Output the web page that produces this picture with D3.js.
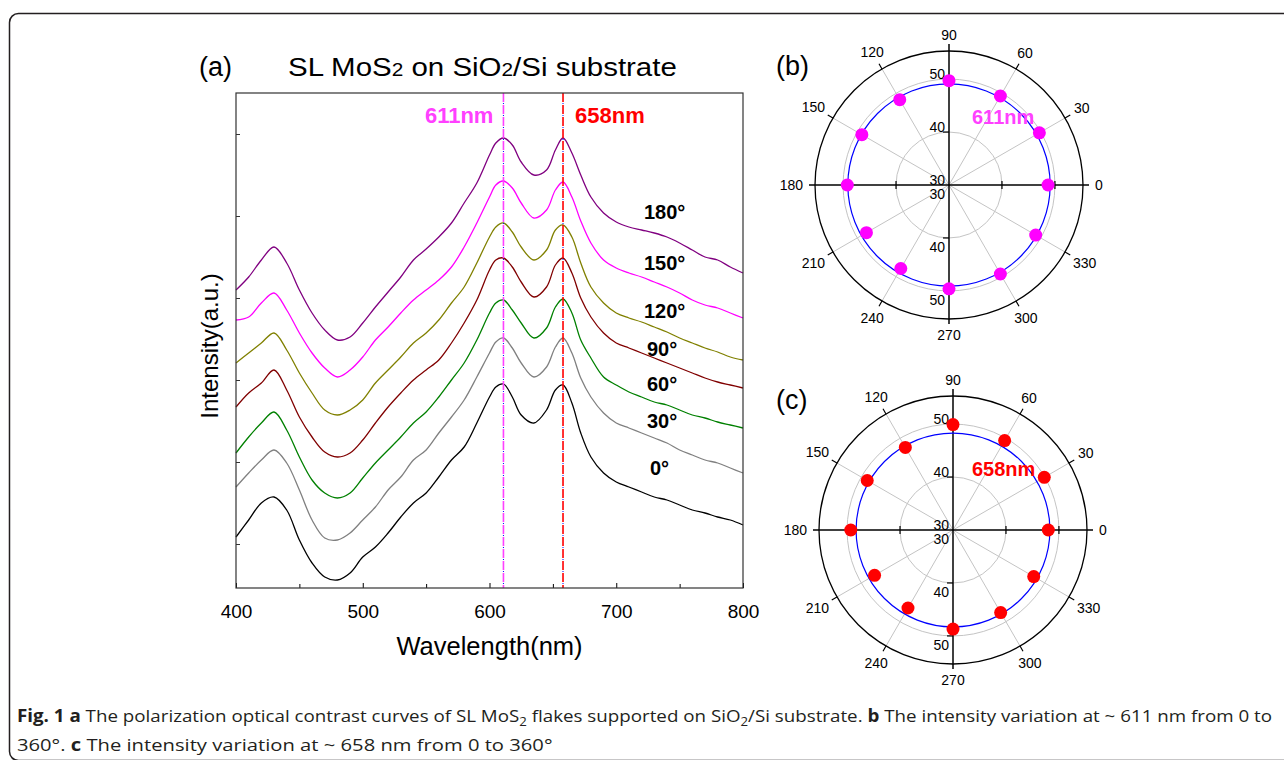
<!DOCTYPE html>
<html>
<head>
<meta charset="utf-8">
<script src="https://cdn.jsdelivr.net/npm/d3@7/dist/d3.min.js"></script>
<style>
body { margin: 0; background: #fff; }
svg { display: block; font-family: "Liberation Sans", Arial, sans-serif; }
</style>
</head>
<body>
<div id="chart"></div>
<script>
// ---- data ----
var wavelengths = [400,410,420,430,440,450,460,470,480,490,500,510,520,530,540,550,560,570,580,590,600,
                   605,611,618,625,635,645,652,658,665,672,
                   680,690,700,710,720,730,740,750,760,770,780,790,800];

// intensity (a.u.), one list per polarization angle
var spec0   = [51,68,85,91,78,48,25,11,8,15,31,41,55,71,85,95,111,128,141,165,191,201,204,191,173,165,178,198,203,185,155,131,115,106,101,96,91,88,83,78,75,71,68,63];
var spec30  = [101,115,128,138,125,98,68,50,48,55,68,81,98,111,128,138,155,171,188,211,235,246,250,240,225,211,221,241,250,235,210,191,175,165,160,155,150,145,138,133,128,125,120,115];
var spec60  = [135,151,165,176,158,131,108,95,90,95,110,125,138,151,165,176,191,208,225,248,275,285,288,278,265,250,260,281,289,275,248,230,211,203,196,191,186,183,178,173,170,166,163,160];
var spec90  = [181,195,205,218,198,171,151,136,131,135,148,165,181,195,208,218,228,245,265,288,318,328,330,321,306,291,301,323,330,315,290,271,255,245,240,235,230,225,220,215,210,206,203,200];
var spec120 = [225,235,245,255,238,215,195,178,173,178,188,205,218,231,245,255,268,285,301,325,351,361,365,356,341,328,338,358,363,351,325,301,285,275,270,266,261,256,250,245,240,236,231,228];
var spec150 = [268,271,285,295,278,255,235,220,211,218,231,248,261,275,288,298,308,321,341,365,391,403,407,400,385,370,378,398,406,391,367,345,328,320,315,311,306,301,295,288,283,280,275,270];
var spec180 = [298,311,328,341,325,298,275,258,248,251,265,281,296,311,328,339,351,365,385,405,433,445,450,443,426,413,418,438,450,435,413,391,375,366,361,358,355,351,345,338,331,328,321,315];
var angleNames = ["0°","30°","60°","90°","120°","150°","180°"];

var xTicks = [400,500,600,700,800];
var xMinorTicks = [450,550,650,750];
var yTicks = [44,126,208,290,372,454];
var peakWavelengths = [611, 658];

// polar panels
var polarAngles = [0,30,60,90,120,150,180,210,240,270,300,330];
var contrast611 = [48.7,49.7,49.4,49.7,48.6,49.0,49.2,48.0,48.2,49.6,49.4,48.9];
var contrast658 = [48.0,49.9,49.5,49.9,48.0,48.7,49.3,47.1,47.0,48.7,48.0,47.6];
var fit611 = 49.1;
var fit658 = 48.3;
var radialTicks = [30,40,50];

// ---- drawing ----
var width = 1284, height = 760;
var font = "Liberation Sans, Arial, sans-serif";

var svg = d3.select("#chart").append("svg")
    .attr("width", width)
    .attr("height", height);

svg.append("rect").attr("width", width).attr("height", height).attr("fill", "#fff");

// rounded frame round the whole figure
svg.append("rect")
    .attr("x", 9.5).attr("y", 13.5)
    .attr("width", 1320).attr("height", 747)
    .attr("rx", 9).attr("ry", 9)
    .attr("fill", "none")
    .attr("stroke", "#231f20")
    .attr("stroke-width", 1.5);

// squeeze/stretch a text horizontally so it covers a given width
function fitWidth(sel, target, x0) {
    var w = sel.node().getComputedTextLength();
    var s = target / w;
    sel.attr("transform", "translate(" + x0 + ",0) scale(" + s + ",1) translate(" + (-x0) + ",0)");
    return s;
}

// ===== panel (a) =====
var plot = { left: 236, right: 743, top: 93, bottom: 588 };
var x = d3.scaleLinear().domain([400, 800]).range([plot.left, plot.right]);
var y = d3.scaleLinear().domain([0, 495]).range([plot.bottom, plot.top]);

var spectra = [
    { name: angleNames[0], values: spec0,   color: "#000000", lx: 650, ly: 475 },
    { name: angleNames[1], values: spec30,  color: "#808080", lx: 647, ly: 428 },
    { name: angleNames[2], values: spec60,  color: "#008000", lx: 647, ly: 391 },
    { name: angleNames[3], values: spec90,  color: "#800000", lx: 647, ly: 356 },
    { name: angleNames[4], values: spec120, color: "#808000", lx: 644, ly: 318 },
    { name: angleNames[5], values: spec150, color: "#ff00ff", lx: 644, ly: 270 },
    { name: angleNames[6], values: spec180, color: "#800080", lx: 644, ly: 219 }
];

var line = d3.line()
    .x(function (d, i) { return x(wavelengths[i]); })
    .y(function (d) { return y(d); })
    .curve(d3.curveCatmullRom.alpha(0.5));

svg.append("g").selectAll("path")
    .data(spectra)
    .join("path")
    .attr("d", function (d) { return line(d.values); })
    .attr("fill", "none")
    .attr("stroke", function (d) { return d.color; })
    .attr("stroke-width", 1.3);

svg.append("g").selectAll("text")
    .data(spectra)
    .join("text")
    .attr("x", function (d) { return d.lx; })
    .attr("y", function (d) { return d.ly; })
    .attr("font-size", 20)
    .attr("font-weight", "bold")
    .attr("fill", "#000")
    .text(function (d) { return d.name; });

// dashed peak markers
var peakColors = ["#ff40ff", "#ff0000"];
var peaks = svg.append("g");
peakWavelengths.forEach(function (w, i) {
    peaks.append("line")
        .attr("x1", x(w)).attr("x2", x(w))
        .attr("y1", plot.top).attr("y2", plot.bottom)
        .attr("stroke", "#0000ff").attr("stroke-width", 1)
        .attr("stroke-dasharray", "1,11").attr("stroke-dashoffset", 2);
    peaks.append("line")
        .attr("x1", x(w)).attr("x2", x(w))
        .attr("y1", plot.top).attr("y2", plot.bottom)
        .attr("stroke", peakColors[i]).attr("stroke-width", 1.6)
        .attr("stroke-dasharray", "9,3");
});
svg.append("text")
    .attr("x", x(611) - 10).attr("y", 123)
    .attr("text-anchor", "end")
    .attr("font-size", 22).attr("font-weight", "bold")
    .attr("fill", peakColors[0])
    .text(peakWavelengths[0] + "nm");
svg.append("text")
    .attr("x", x(658) + 12).attr("y", 123)
    .attr("font-size", 22).attr("font-weight", "bold")
    .attr("fill", peakColors[1])
    .text(peakWavelengths[1] + "nm");

// axes (ticks point inward)
var gx = svg.append("g")
    .attr("transform", "translate(0," + plot.bottom + ")")
    .call(d3.axisBottom(x).tickValues(xTicks).tickSize(-5).tickPadding(16.5).tickFormat(d3.format("d")));
gx.attr("font-size", 19).attr("font-family", font);
gx.select(".domain").remove();
gx.selectAll("text").attr("fill", "#000");

var gxm = svg.append("g")
    .attr("transform", "translate(0," + plot.bottom + ")")
    .call(d3.axisBottom(x).tickValues(xMinorTicks).tickSize(-4).tickFormat(""));
gxm.select(".domain").remove();

var gy = svg.append("g")
    .attr("transform", "translate(" + plot.left + ",0)")
    .call(d3.axisLeft(y).tickValues(yTicks).tickSize(-4).tickFormat(""));
gy.select(".domain").remove();
gy.selectAll("line").attr("stroke", "#333");

svg.append("rect")
    .attr("x", plot.left).attr("y", plot.top)
    .attr("width", plot.right - plot.left).attr("height", plot.bottom - plot.top)
    .attr("fill", "none").attr("stroke", "#333").attr("stroke-width", 1.2);

svg.append("text")
    .attr("x", (plot.left + plot.right) / 2).attr("y", 655)
    .attr("text-anchor", "middle")
    .attr("font-size", 25.5)
    .text("Wavelength(nm)");

svg.append("text")
    .attr("transform", "translate(218,346) rotate(-90)")
    .attr("text-anchor", "middle")
    .attr("font-size", 24)
    .text("Intensity(a.u.)");

svg.append("text")
    .attr("x", 199).attr("y", 76)
    .attr("font-size", 27)
    .text("(a)");

var title = svg.append("text")
    .attr("x", 288).attr("y", 76)
    .attr("font-size", 25.5);
title.append("tspan").text("SL MoS");
title.append("tspan").attr("font-size", 18).text("2");
title.append("tspan").text(" on SiO");
title.append("tspan").attr("font-size", 18).text("2");
title.append("tspan").text("/Si substrate");
fitWidth(title, 389, 288);

// ===== panels (b) and (c) =====
var r = d3.scaleLinear().domain([30, 55.3]).range([0, 134]);
var outerR = r(55.3);

function rad(a) { return (90 - a) * Math.PI / 180; }

function labelRadius(a) {
    var w = String(a).length * 7.8;
    return 150 + Math.abs(Math.cos(a * Math.PI / 180)) * (w / 2 - 4);
}

function drawPolar(cx, cy, values, fit, color, peakText, peakDx, peakDy, panelText, panelY) {
    var g = svg.append("g").attr("transform", "translate(" + cx + "," + cy + ")");

    g.append("g").selectAll("circle")
        .data(radialTicks.slice(1))
        .join("circle")
        .attr("r", function (d) { return r(d); })
        .attr("fill", "none")
        .attr("stroke", "#c4c4c4")
        .attr("stroke-width", 1);

    g.append("g").selectAll("line")
        .data(polarAngles.filter(function (a) { return a % 90 !== 0; }))
        .join("line")
        .attr("x2", function (a) { return d3.pointRadial(rad(a), outerR)[0]; })
        .attr("y2", function (a) { return d3.pointRadial(rad(a), outerR)[1]; })
        .attr("stroke", "#c4c4c4")
        .attr("stroke-width", 1);

    g.append("circle")
        .attr("r", outerR)
        .attr("fill", "none")
        .attr("stroke", "#000")
        .attr("stroke-width", 1.3);

    // outward ticks on the rim
    g.append("g").selectAll("line")
        .data(polarAngles.filter(function (a) { return a % 90 !== 0; }))
        .join("line")
        .attr("x1", function (a) { return d3.pointRadial(rad(a), outerR)[0]; })
        .attr("y1", function (a) { return d3.pointRadial(rad(a), outerR)[1]; })
        .attr("x2", function (a) { return d3.pointRadial(rad(a), outerR + 6)[0]; })
        .attr("y2", function (a) { return d3.pointRadial(rad(a), outerR + 6)[1]; })
        .attr("stroke", "#000")
        .attr("stroke-width", 1.2);

    // cross axes
    g.append("line").attr("x1", -outerR - 6).attr("x2", outerR + 6)
        .attr("stroke", "#000").attr("stroke-width", 1.5);
    g.append("line").attr("y1", -outerR - 7).attr("y2", outerR + 5)
        .attr("stroke", "#000").attr("stroke-width", 1.5);

    var rt = radialTicks.slice(1);
    g.append("g").selectAll("line")
        .data(rt.concat(rt.map(function (d) { return -d; })))
        .join("line")
        .attr("x1", function (d) { return d > 0 ? r(d) : -r(-d); })
        .attr("x2", function (d) { return d > 0 ? r(d) : -r(-d); })
        .attr("y1", -4).attr("y2", 4)
        .attr("stroke", "#000").attr("stroke-width", 1.2);
    g.append("g").selectAll("line")
        .data(rt.concat(rt.map(function (d) { return -d; })))
        .join("line")
        .attr("y1", function (d) { return d > 0 ? -r(d) : r(-d); })
        .attr("y2", function (d) { return d > 0 ? -r(d) : r(-d); })
        .attr("x1", -6).attr("x2", 0)
        .attr("stroke", "#000").attr("stroke-width", 1.2);

    // radial labels above and below the centre
    g.append("g").selectAll("text")
        .data(radialTicks)
        .join("text")
        .attr("x", -4).attr("y", function (d) { return -r(d); })
        .attr("text-anchor", "end").attr("font-size", 14)
        .text(function (d) { return d; });
    g.append("g").selectAll("text")
        .data(radialTicks)
        .join("text")
        .attr("x", -4).attr("y", function (d) { return r(d) + 14; })
        .attr("text-anchor", "end").attr("font-size", 14)
        .text(function (d) { return d; });

    // angle labels
    g.append("g").selectAll("text")
        .data(polarAngles)
        .join("text")
        .attr("x", function (a) { return d3.pointRadial(rad(a), labelRadius(a))[0]; })
        .attr("y", function (a) { return d3.pointRadial(rad(a), labelRadius(a))[1]; })
        .attr("text-anchor", "middle")
        .attr("dominant-baseline", "central")
        .attr("font-size", 14)
        .text(function (a) { return a; });

    // fitted curve
    g.append("circle")
        .attr("r", r(fit))
        .attr("fill", "none")
        .attr("stroke", "#0000ff")
        .attr("stroke-width", 1.2);

    g.append("g").selectAll("circle")
        .data(values)
        .join("circle")
        .attr("cx", function (d, i) { return d3.pointRadial(rad(polarAngles[i]), r(d))[0]; })
        .attr("cy", function (d, i) { return d3.pointRadial(rad(polarAngles[i]), r(d))[1]; })
        .attr("r", 6.5)
        .attr("fill", color);

    g.append("text")
        .attr("x", peakDx).attr("y", peakDy)
        .attr("font-size", 20).attr("font-weight", "bold")
        .attr("fill", color === "#ff00ff" ? "#ff40ff" : color)
        .text(peakText);

    svg.append("text")
        .attr("x", 776).attr("y", panelY)
        .attr("font-size", 27)
        .text(panelText);
}

drawPolar(949, 185, contrast611, fit611, "#ff00ff", peakWavelengths[0] + "nm", 23, -61, "(b)", 75);
drawPolar(953, 530, contrast658, fit658, "#ff0000", peakWavelengths[1] + "nm", 19, -54, "(c)", 409);

// ===== caption =====
var capFont = "Open Sans, Liberation Sans, sans-serif";
var cap1 = svg.append("text").attr("x", 17).attr("y", 722)
    .attr("font-family", capFont).attr("font-size", 17).attr("fill", "#231f20");
cap1.append("tspan").attr("font-weight", "bold").text("Fig. 1 a");
cap1.append("tspan").text(" The polarization optical contrast curves of SL MoS");
cap1.append("tspan").attr("font-size", 12).attr("dy", 4).text("2");
cap1.append("tspan").attr("dy", -4).text(" flakes supported on SiO");
cap1.append("tspan").attr("font-size", 12).attr("dy", 4).text("2");
cap1.append("tspan").attr("dy", -4).text("/Si substrate. ");
cap1.append("tspan").attr("font-weight", "bold").text("b");
cap1.append("tspan").text(" The intensity variation at ~ 611 nm from 0 to");
fitWidth(cap1, 1256, 17);

var cap2 = svg.append("text").attr("x", 17).attr("y", 751)
    .attr("font-family", capFont).attr("font-size", 17).attr("fill", "#231f20");
cap2.append("tspan").text("360°. ");
cap2.append("tspan").attr("font-weight", "bold").text("c");
cap2.append("tspan").text(" The intensity variation at ~ 658 nm from 0 to 360°");
fitWidth(cap2, 536, 17);
</script>
</body>
</html>
